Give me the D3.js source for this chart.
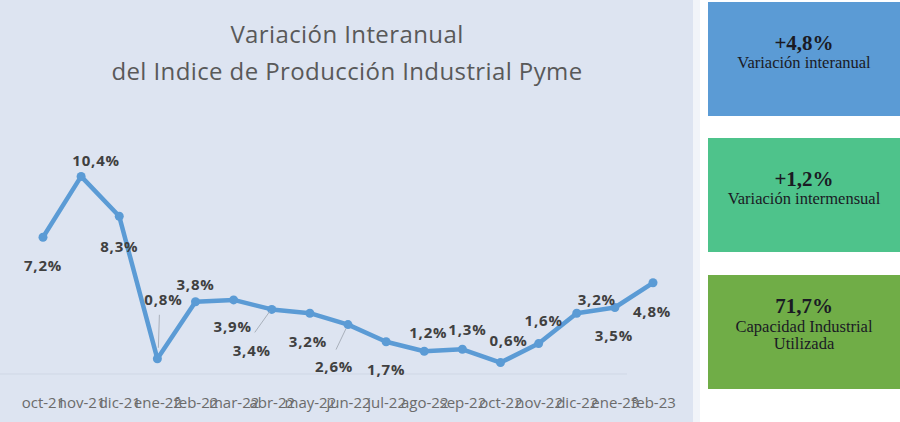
<!DOCTYPE html>
<html>
<head>
<meta charset="utf-8">
<script src="https://cdn.jsdelivr.net/npm/d3@7"></script>
<style>
  body { margin: 0; background: #fff; }
  svg { display: block; }
</style>
</head>
<body>
<svg class="chart" width="900" height="422"></svg>
<script>
// data
const months = ['oct-21', 'nov-21', 'dic-21', 'ene-22', 'feb-22', 'mar-22', 'abr-22', 'may-22', 'jun-22',
                'jul-22', 'ago-22', 'sep-22', 'oct-22', 'nov-22', 'dic-22', 'ene-23', 'feb-23'];
const values = [7.2, 10.4, 8.3, 0.8, 3.8, 3.9, 3.4, 3.2, 2.6, 1.7, 1.2, 1.3, 0.6, 1.6, 3.2, 3.5, 4.8];
const titleLines = ['Variación Interanual', 'del Indice de Producción Industrial Pyme'];
const boxValues = ['+4,8%', '+1,2%', '71,7%'];
const boxTexts = [['Variación interanual'], ['Variación intermensual'], ['Capacidad Industrial', 'Utilizada']];

// label placement relative to each point (layout only)
const labelOffsets = [[0, 28], [15, -16], [0, 30], [6, -59], [0, -17], [-1, 27], [-20, 41], [-2, 28], [-14, 42],
                      [0, 28], [4, -19], [5, -20], [8, -22], [5, -23], [20, -14], [-1, 28], [-1, 29]];
const leaders = [
  { i: 3, from: [2, -44], to: [1, -11] },
  { i: 6, from: [-17, 23], to: [-2, 2] },
  { i: 8, from: [-12, 25], to: [-2, 4] }
];

const fmt = v => v.toFixed(1).replace('.', ',') + '%';

const svg = d3.select('svg.chart');

// chart panel background
svg.append('rect')
   .attr('x', 0).attr('y', 0)
   .attr('width', 693).attr('height', 422)
   .style('fill', '#dde4f1');
svg.append('rect')
   .attr('x', 693).attr('y', 0)
   .attr('width', 7).attr('height', 422)
   .style('fill', '#f1f4f9');

// title
svg.append('g')
   .selectAll('text')
   .data(titleLines)
   .enter()
   .append('text')
   .attr('x', 347)
   .attr('y', (d, i) => 43 + i * 37)
   .attr('text-anchor', 'middle')
   .style('font-family', '"Open Sans", sans-serif')
   .style('font-size', '24px')
   .style('letter-spacing', '0.4px')
   .style('fill', '#595959')
   .text(d => d);

const x = d3.scalePoint()
            .domain(months)
            .range([43, 653]);

const y = d3.scaleLinear()
            .domain([0, 12])
            .range([374, 146]);

// baseline + month labels
const xAxis = svg.append('g')
                 .attr('transform', `translate(0, ${y(0)})`)
                 .call(d3.axisBottom(x).tickSize(0).tickPadding(23));
xAxis.select('.domain')
     .attr('d', 'M-18,0H627')
     .style('stroke', '#cfd7e5');
xAxis.selectAll('text')
     .style('font-family', '"Open Sans", sans-serif')
     .style('font-size', '15px')
     .style('fill', '#6b6b6b');

// line
const line = d3.line()
               .x((d, i) => x(months[i]))
               .y(d => y(d));

svg.append('path')
   .datum(values)
   .attr('d', line)
   .style('fill', 'none')
   .style('stroke', '#5b9bd5')
   .style('stroke-width', 4.5)
   .style('stroke-linejoin', 'round');

svg.selectAll('circle.pt')
   .data(values)
   .enter()
   .append('circle')
   .classed('pt', true)
   .attr('cx', (d, i) => x(months[i]))
   .attr('cy', d => y(d))
   .attr('r', 4.5)
   .style('fill', '#5b9bd5');

// leader lines
svg.selectAll('line.leader')
   .data(leaders)
   .enter()
   .append('line')
   .classed('leader', true)
   .attr('x1', d => x(months[d.i]) + d.from[0])
   .attr('y1', d => y(values[d.i]) + d.from[1])
   .attr('x2', d => x(months[d.i]) + d.to[0])
   .attr('y2', d => y(values[d.i]) + d.to[1])
   .style('stroke', '#a9b0bb')
   .style('stroke-width', 1);

// data labels
svg.selectAll('text.lbl')
   .data(values)
   .enter()
   .append('text')
   .classed('lbl', true)
   .attr('x', (d, i) => x(months[i]) + labelOffsets[i][0])
   .attr('y', (d, i) => y(d) + labelOffsets[i][1])
   .attr('dy', '0.36em')
   .attr('text-anchor', 'middle')
   .style('font-family', '"Open Sans", sans-serif')
   .style('font-size', '15px')
   .style('font-weight', 700)
   .style('letter-spacing', '0.8px')
   .style('fill', '#404040')
   .text(d => fmt(d));

// right side indicator boxes
const boxColors = ['#5b9bd5', '#4ec38b', '#70ad47'];
const boxTop = [2, 138, 275];
const boxG = svg.append('g');

boxG.selectAll('rect.box')
    .data(boxValues)
    .enter()
    .append('rect')
    .classed('box', true)
    .attr('x', 708)
    .attr('y', (d, i) => boxTop[i])
    .attr('width', 192)
    .attr('height', 114)
    .style('fill', (d, i) => boxColors[i]);

boxG.selectAll('text.bval')
    .data(boxValues)
    .enter()
    .append('text')
    .classed('bval', true)
    .attr('x', 804)
    .attr('y', (d, i) => boxTop[i] + (i === 2 ? 38 : 48))
    .attr('text-anchor', 'middle')
    .style('font-family', '"Liberation Serif", "Times New Roman", serif')
    .style('font-size', '21px')
    .style('font-weight', 700)
    .style('fill', '#1a1a24')
    .text(d => d);

boxTexts.forEach((lines, i) => {
  boxG.selectAll(null)
      .data(lines)
      .enter()
      .append('text')
      .attr('x', 804)
      .attr('y', (d, j) => boxTop[i] + (i === 2 ? 57 : 66) + j * 17)
      .attr('text-anchor', 'middle')
      .style('font-family', '"Liberation Serif", "Times New Roman", serif')
      .style('font-size', '16.5px')
      .style('fill', '#1a1a24')
      .text(d => d);
});
</script>
</body>
</html>
